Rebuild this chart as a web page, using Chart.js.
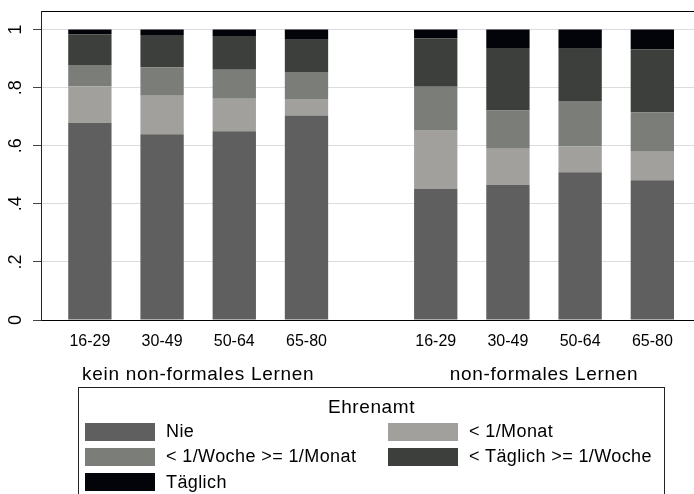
<!DOCTYPE html>
<html>
<head>
<meta charset="utf-8">
<title>Ehrenamt nach Altersgruppe und non-formalem Lernen</title>
<script src="https://cdn.jsdelivr.net/npm/chart.js"></script>
<style>
  html, body { margin: 0; padding: 0; background: #fff; overflow: hidden; }
  #wrap { position: relative; width: 694px; height: 494px; overflow: hidden; }
  #legend {
    position: absolute; left: 78px; top: 387px; width: 587px; height: 140px;
    border: 1px solid #222; box-sizing: border-box;
    font-family: Arial, "Liberation Sans", sans-serif; color: #000;
  }
  #legend .title { text-align: center; font-size: 19px; letter-spacing: 0.6px; height: 31px; line-height: 22px; padding-top: 8px; box-sizing: border-box; }
  #legend .items { display: grid; grid-template-columns: 303px 1fr; margin-left: 6px; }
  #legend .item { display: flex; align-items: center; height: 25.3px; font-size: 18px; letter-spacing: 0.4px; }
  #legend .swatch { width: 70px; height: 18px; margin-right: 11px; flex: none; }
</style>
</head>
<body>
<div id="wrap">
  <canvas id="chart" width="694" height="494"></canvas>
  <div id="legend"></div>
</div>
<script>
// age groups inside each learning group
const ageGroups = ['16-29', '30-49', '50-64', '65-80'];
const learningGroups = ['kein non-formales Lernen', 'non-formales Lernen'];
const legendTitle = 'Ehrenamt';
const categories = ['Nie', '< 1/Monat', '< 1/Woche >= 1/Monat', '< Täglich >= 1/Woche', 'Täglich'];

// shares, first 4 bars = kein non-formales Lernen, last 4 = non-formales Lernen
const nie           = [0.679, 0.640, 0.650, 0.704, 0.451, 0.466, 0.509, 0.481];
const unterMonat    = [0.125, 0.132, 0.112, 0.057, 0.203, 0.124, 0.088, 0.098];
const unterWoche    = [0.074, 0.098, 0.100, 0.093, 0.149, 0.131, 0.157, 0.136];
const unterTaeglich = [0.106, 0.111, 0.116, 0.111, 0.166, 0.216, 0.180, 0.217];
const taeglich      = [0.016, 0.019, 0.022, 0.035, 0.031, 0.063, 0.066, 0.068];

const yTicks = [0, 0.2, 0.4, 0.6, 0.8, 1];
const yTickLabels = ['0', '.2', '.4', '.6', '.8', '1'];

const colors = ['#5f5f5f', '#a1a09c', '#7b7d79', '#3d3f3d', '#03040a'];

// layout: extra space between the two learning groups, in bar slots
const groupGap = 0.79;
const xMin = -0.677;
const xMax = 8.367;

const positions = [];
learningGroups.forEach((g, gi) => {
  ageGroups.forEach((a, ai) => positions.push(gi * (ageGroups.length + groupGap) + ai));
});
const groupCenters = learningGroups.map((g, gi) => gi * (ageGroups.length + groupGap) + (ageGroups.length - 1) / 2);

const seriesValues = [nie, unterMonat, unterWoche, unterTaeglich, taeglich];
const datasets = categories.map((label, i) => ({
  label: label,
  data: positions.map((x, j) => ({ x: x, y: seriesValues[i][j] })),
  backgroundColor: colors[i],
  borderWidth: 0,
  barPercentage: 0.6,
  categoryPercentage: 1
}));

const font = 'Arial, "Liberation Sans", sans-serif';

// no label padding reservations, the frame is placed by layout.padding
function noPad(s) {
  s.paddingLeft = 0; s.paddingRight = 0; s.paddingTop = 0; s.paddingBottom = 0;
}

new Chart(document.getElementById('chart'), {
  type: 'bar',
  data: { datasets: datasets },
  options: {
    responsive: false,
    animation: false,
    layout: { padding: { top: 11, right: 0, bottom: 106, left: 0 } },
    plugins: { legend: { display: false }, tooltip: { enabled: false } },
    scales: {
      x: {
        type: 'linear', position: 'bottom', stacked: true, offset: false, min: xMin, max: xMax, weight: 0,
        grid: { display: false, drawTicks: false },
        border: { display: true, color: '#000', width: 1 },
        afterBuildTicks: s => { s.ticks = positions.map(v => ({ value: v })); },
        afterFit: s => { s.height = 38; noPad(s); },
        ticks: {
          autoSkip: false, maxRotation: 0, padding: 12, color: '#000',
          font: { family: font, size: 16 },
          callback: (v, i) => ageGroups[i % ageGroups.length]
        }
      },
      xg: {
        type: 'linear', position: 'bottom', offset: false, min: xMin, max: xMax, weight: 1,
        grid: { display: false, drawTicks: false },
        border: { display: false },
        afterBuildTicks: s => { s.ticks = groupCenters.map(v => ({ value: v })); },
        afterFit: s => {
          s.height = 30; noPad(s);
          if (!s._spaced) {
            const draw = s.drawLabels;
            s.drawLabels = function (area) {
              this.ctx.save();
              this.ctx.letterSpacing = '0.7px';
              draw.call(this, area);
              this.ctx.restore();
            };
            s._spaced = true;
          }
        },
        ticks: {
          autoSkip: false, maxRotation: 0, padding: 5, color: '#000',
          font: { family: font, size: 19 },
          callback: (v, i) => learningGroups[i]
        }
      },
      xt: {
        type: 'linear', position: 'top', offset: false,
        grid: { display: false, drawTicks: false },
        border: { display: true, color: '#000', width: 1 },
        ticks: { display: false },
        afterFit: s => { s.height = 0; noPad(s); }
      },
      y: {
        stacked: true, min: 0, max: 1.064,
        grid: { color: '#dcdcdc', lineWidth: 1, drawTicks: true, tickLength: 8, tickColor: '#444' },
        border: { display: true, color: '#222', width: 1 },
        afterBuildTicks: s => { s.ticks = yTicks.map(v => ({ value: v })); },
        afterFit: s => { s.width = 41; noPad(s); },
        ticks: {
          minRotation: 90, maxRotation: 90, crossAlign: 'center', padding: 9, color: '#000',
          font: { family: font, size: 18 },
          callback: (v, i) => yTickLabels[i]
        }
      }
    }
  }
});

// legend box below the chart, two columns
const legend = document.getElementById('legend');
let html = '<div class="title">' + legendTitle + '</div><div class="items">';
categories.forEach((c, i) => {
  html += '<div class="item"><span class="swatch" style="background:' + colors[i] + '"></span>' +
    c.replace(/</g, '&lt;').replace(/>/g, '&gt;') + '</div>';
});
html += '</div>';
legend.innerHTML = html;
</script>
</body>
</html>
